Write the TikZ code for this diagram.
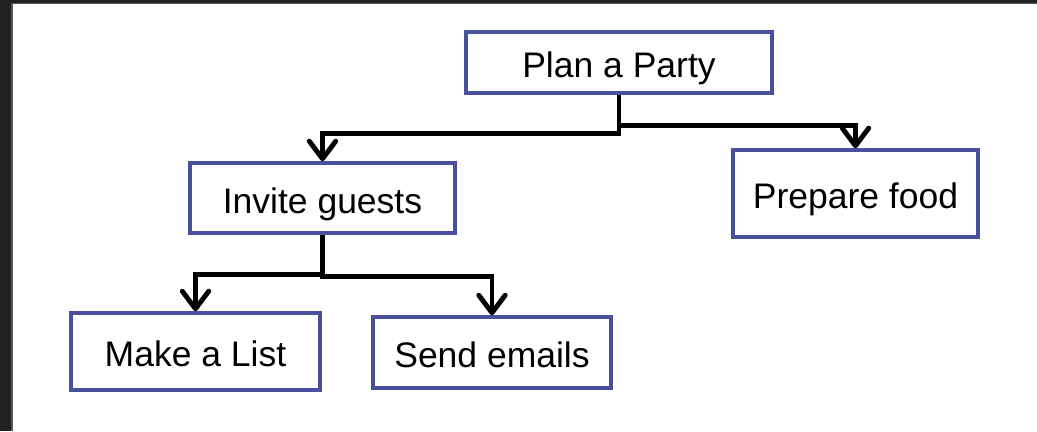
\documentclass[tikz,border=0pt]{standalone}
\usepackage{fontspec}
\setmainfont{Liberation Sans}
\usetikzlibrary{arrows.meta}

\definecolor{rdark}{HTML}{222222}
\definecolor{redge}{HTML}{585858}
\definecolor{rslate}{HTML}{4A4F9E}

\tikzset{
  task/.style={draw=rslate, line width=2pt, fill=white, inner sep=0pt,
    text height=0.6cm, text depth=0cm,
    font=\fontsize{20.2}{24}\selectfont},
  branch/.style={line width=2.8pt, -{Straight Barb[length=10pt,width=15pt,round,line width=2.8pt]}}
}

\begin{document}
\begin{tikzpicture}
  \useasboundingbox (0,0) rectangle (20.74,8.62);
  % dark frame round the sheet
  \fill[rdark] (0,0) rectangle (20.74,8.62);
  \fill[redge] (0.22,0) rectangle (20.74,8.56);
  \fill[white] (0.26,0) rectangle (20.74,8.54);

  \node[task, minimum width=6.12cm, minimum height=1.22cm] (plan) at (12.38,7.37) {Plan a Party};
  \node[task, minimum width=5.3cm, minimum height=1.4cm] (invite) at (6.45,4.66) {Invite guests};
  \node[task, minimum width=4.9cm, minimum height=1.74cm] (food) at (17.11,4.75) {Prepare food};
  \node[task, minimum width=4.98cm, minimum height=1.54cm] (list) at (3.91,1.59) {Make a List};
  \node[task, minimum width=4.76cm, minimum height=1.42cm] (send) at (9.84,1.57) {Send emails};

  \draw[branch] (plan.south) -- ++(0,-0.78) -| (invite.north);
  \draw[branch] (plan.south) -- ++(0,-0.62) -| (food.north);
  \draw[branch] (invite.south) -- ++(0,-0.80) -| (list.north);
  \draw[branch] (invite.south) -- ++(0,-0.84) -| (send.north);
\end{tikzpicture}
\end{document}
